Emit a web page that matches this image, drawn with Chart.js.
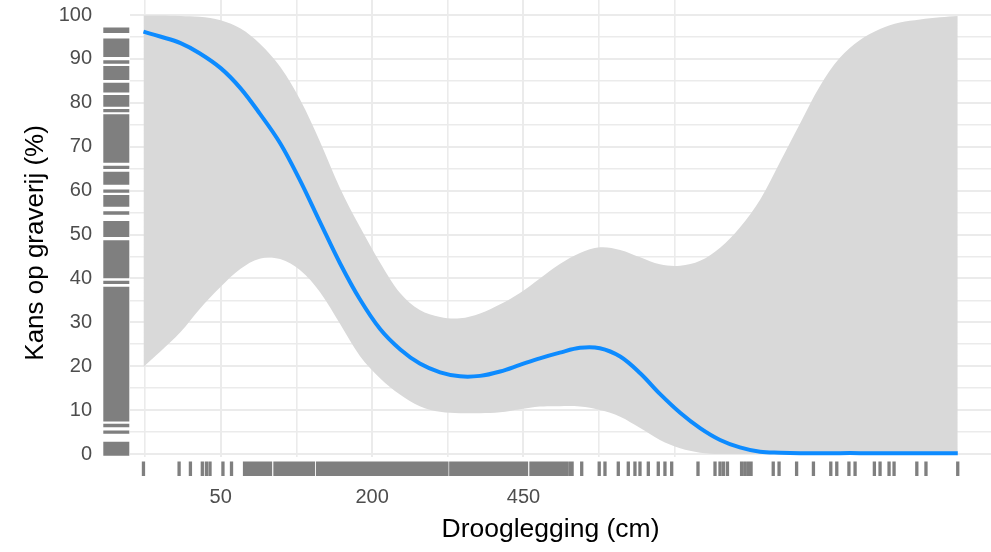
<!DOCTYPE html>
<html><head><meta charset="utf-8">
<script src="https://cdn.jsdelivr.net/npm/chart.js@4.4.1/dist/chart.umd.min.js"></script>
<style>html,body{margin:0;padding:0;background:#fff;}#wrap{width:991px;height:552px;}</style>
</head><body><div id="wrap"><canvas id="c" width="991" height="552"></canvas></div>
<script>
// Drooglegging (cm) at which the smooth and its confidence band were read
const drooglegging = [12, 18, 27, 37, 50, 64, 79, 97, 116, 137, 160, 184, 211, 239, 268, 300, 333, 368, 405, 443, 483, 525, 569, 614, 662, 711, 761, 814, 868, 924, 981, 1041, 1102, 1165, 1229, 1296, 1364, 1434, 1505, 1579, 1654, 1722];
// fitted probability (%)
const kans = [96.2, 95.1, 93.6, 91.3, 87.9, 83.3, 77.6, 70.8, 62.4, 52.9, 43.4, 35.3, 28.4, 23.8, 20.6, 18.6, 17.7, 17.8, 18.8, 20.3, 21.8, 23.1, 24.2, 24.1, 22.2, 18.4, 13.7, 9.4, 5.9, 3.2, 1.5, 0.5, 0.3, 0.2, 0.2, 0.2, 0.2, 0.15, 0.15, 0.15, 0.15, 0.15];
// confidence band
const bovengrens = [99.9, 99.9, 99.8, 99.6, 98.8, 96.9, 93.5, 88.2, 80.8, 71.2, 60.5, 51.8, 43.5, 36.6, 32.8, 31.2, 30.9, 32.0, 34.1, 36.7, 40.0, 43.3, 45.8, 47.1, 46.5, 44.8, 43.2, 42.9, 44.0, 47.0, 51.6, 57.9, 66.5, 75.3, 83.8, 90.3, 94.3, 96.8, 98.3, 99.0, 99.5, 99.8];
const ondergrens = [19.9, 23.3, 27.8, 33.0, 38.1, 42.2, 44.5, 44.4, 41.9, 36.9, 29.6, 22.4, 17.2, 13.5, 10.9, 9.6, 9.3, 9.3, 9.5, 10.2, 10.8, 10.9, 10.8, 10.0, 8.5, 5.9, 3.2, 1.3, 0.3, 0, 0, 0, 0, 0, 0, 0, 0, 0, 0, 0, 0, 0];

// axis breaks / labels
const xMajorBreaks = [50, 200, 450];
const xMinorBreaks = [12.5, 112.5, 312.5, 612.5, 800];
const yMajorBreaks = [0, 10, 20, 30, 40, 50, 60, 70, 80, 90, 100];
const yMinorBreaks = [5, 15, 25, 35, 45, 55, 65, 75, 85, 95];
const xTitle = 'Drooglegging (cm)';
const yTitle = 'Kans op graverij (%)';

// rug: observed drooglegging (cm)
const xRug = [12, 26.3, 32, 38.6, 41, 43.2, 51.5, 57.4,
 67, 69, 71, 73, 75, 77, 79, 81, 83, 85, 87, 88.3,
 92.3, 94.5, 96.5,
 98, 101, 104, 107, 110, 113, 116, 119, 122, 125, 127.5, 130,
 134.5, 137.5, 140.5, 143.5, 146.5, 149.5, 152.5, 155.5, 158.5, 161.5, 164.5, 167.5, 170.5, 173.5, 176.5, 179.5, 182.5, 186, 189.5, 193, 196.5, 200, 203.5, 207, 210.5, 214, 218, 222, 226, 230, 234, 238, 242, 246, 250, 254, 258.5, 263, 267.5, 272, 276.5, 281, 285.5, 290, 294.5, 299, 303, 307, 311,
 317.5, 322, 327, 332, 337, 342, 347, 352, 357, 362, 367, 372, 377, 382, 387, 392, 397, 402, 407, 412, 417, 422, 427, 432, 437, 442, 447, 451.5, 456,
 465, 470.5, 476, 481, 486,
 491, 496, 501, 506.5, 511.5,
 516, 521.5, 527, 533, 539.5,
 547, 551.5, 572.8, 612.6, 626, 657.5, 681.7, 698, 710.5, 731.4, 756.8, 774, 791.6, 862.3, 909.6, 923.7, 933.7, 945, 986, 996, 1006, 1014, 1081, 1099, 1154, 1208, 1265, 1285, 1326, 1347, 1414, 1434, 1466, 1484, 1567, 1601, 1722];
// rug: observed / fitted kans (%)
const yRug = [96.8, 96.3, 94.3, 93.7, 93.1, 92.5, 91.9, 91.3, 90.8, 89.3, 88.0, 87.4, 86.8, 86.2, 85.6, 84.2, 83.6, 83.0, 82.7, 81.4, 80.8, 80.2, 79.5, 78.2,
 77.0, 76.4, 75.8, 75.2, 74.6, 74.0, 73.4, 72.8, 72.2, 71.6, 71.0, 70.4, 69.8, 69.2, 68.6, 68.0, 67.4, 66.7, 65.3, 63.9, 63.3, 62.7, 62.1, 61.7, 59.9, 58.6, 58.0, 57.4, 56.7, 54.9,
 52.7, 52.1, 51.5, 50.9, 50.3, 49.8, 48.3, 47.7, 47.1, 46.5, 45.9, 45.3, 44.7, 44.1, 43.5, 42.9, 42.3, 41.7, 41.1, 40.4, 39.1,
 37.7, 37.1, 36.5, 35.9, 35.3, 34.7, 34.1, 33.5, 32.9, 32.3, 31.7, 31.1, 30.5, 29.9, 29.3, 28.7, 28.1, 27.5, 26.9, 26.3, 25.7, 25.1, 24.5, 23.9, 23.3, 22.7, 22.1, 21.5, 20.9, 20.3, 19.7, 19.1, 18.5, 17.9, 17.3, 16.7, 16.1, 15.5, 14.9, 14.3, 13.7, 13.1, 12.5, 11.9, 11.3, 10.7, 10.1, 9.5, 8.9, 8.3, 7.8,
 6.5, 5.0, 2.4, 1.8, 1.2, 0.6, 0.0];

const FONT = "'Liberation Sans', Arial, sans-serif";
const pts = (ys) => drooglegging.map((c, i) => ({ x: Math.sqrt(c), y: ys[i] }));
const isMajorX = (v) => xMajorBreaks.some(b => Math.abs(Math.sqrt(b) - v) < 1e-6);

const rugPlugin = {
  id: 'rug',
  afterDatasetsDraw(chart) {
    const { ctx, chartArea: a, scales } = chart;
    ctx.save();
    ctx.strokeStyle = '#7f7f7f';
    ctx.lineWidth = 3.3;
    ctx.lineCap = 'butt';
    ctx.beginPath();
    xRug.forEach(c => {
      const px = scales.x.getPixelForValue(Math.sqrt(c));
      ctx.moveTo(px, a.bottom + 4.5); ctx.lineTo(px, a.bottom + 19);
    });
    yRug.forEach(v => {
      const py = scales.y.getPixelForValue(v);
      ctx.moveTo(a.left - 26.7, py); ctx.lineTo(a.left - 0.7, py);
    });
    ctx.stroke();
    ctx.restore();
  }
};

new Chart(document.getElementById('c'), {
  type: 'scatter',
  data: {
    datasets: [
      { label: 'fit', data: pts(kans), showLine: true, borderColor: '#0d8bff', borderWidth: 4,
        pointRadius: 0, tension: 0.35, fill: false, order: 0 },
      { label: 'upper', data: pts(bovengrens), showLine: true, borderWidth: 0, borderColor: 'rgba(0,0,0,0)',
        backgroundColor: '#d9d9d9', pointRadius: 0, tension: 0.35, fill: '+1', order: 1 },
      { label: 'lower', data: pts(ondergrens), showLine: true, borderWidth: 0, borderColor: 'rgba(0,0,0,0)',
        pointRadius: 0, tension: 0.35, fill: false, order: 2 }
    ]
  },
  options: {
    responsive: false,
    animation: false,
    layout: { padding: 0 },
    plugins: { legend: { display: false }, tooltip: { enabled: false } },
    scales: {
      x: {
        type: 'linear', min: 2.835, max: 43.05,
        afterBuildTicks: (s) => {
          s.ticks = [...xMinorBreaks, ...xMajorBreaks].map(Math.sqrt).sort((a, b) => a - b).map(v => ({ value: v }));
        },
        afterFit: (s) => { s.height = 95; s.paddingLeft = 0; s.paddingRight = 0; },
        ticks: {
          autoSkip: false, maxRotation: 0, padding: 28, color: '#4d4d4d',
          font: { family: FONT, size: 20 },
          callback: (v) => { const b = xMajorBreaks.find(b => Math.abs(Math.sqrt(b) - v) < 1e-6); return b === undefined ? '' : String(b); }
        },
        grid: {
          drawTicks: false, color: '#ebebeb',
          lineWidth: (ctx) => (ctx.tick && isMajorX(ctx.tick.value)) ? 2 : 1.6
        },
        border: { display: false },
        title: { display: true, text: xTitle + '\u00a0\u00a0\u2009', color: '#000', font: { family: FONT, size: 26.5 }, padding: { top: 0, bottom: 6 } }
      },
      y: {
        type: 'linear', min: -0.68, max: 103.42,
        afterBuildTicks: (s) => {
          s.ticks = [...yMajorBreaks, ...yMinorBreaks].sort((a, b) => a - b).map(v => ({ value: v }));
        },
        afterFit: (s) => { s.width = 130; s.paddingTop = 0; s.paddingBottom = 0; },
        ticks: {
          autoSkip: false, padding: 38, color: '#4d4d4d',
          font: { family: FONT, size: 20 },
          callback: (v) => yMajorBreaks.includes(v) ? String(v) : ''
        },
        grid: {
          drawTicks: false, color: '#ebebeb',
          lineWidth: (ctx) => (ctx.tick && yMajorBreaks.includes(ctx.tick.value)) ? 2 : 1.6
        },
        border: { display: false },
        title: { display: true, text: yTitle + '\u00a0\u00a0\u00a0\u00a0', color: '#000', font: { family: FONT, size: 26 }, padding: { top: 20, bottom: 0 } }
      }
    }
  },
  plugins: [rugPlugin]
});
</script>
</body></html>
